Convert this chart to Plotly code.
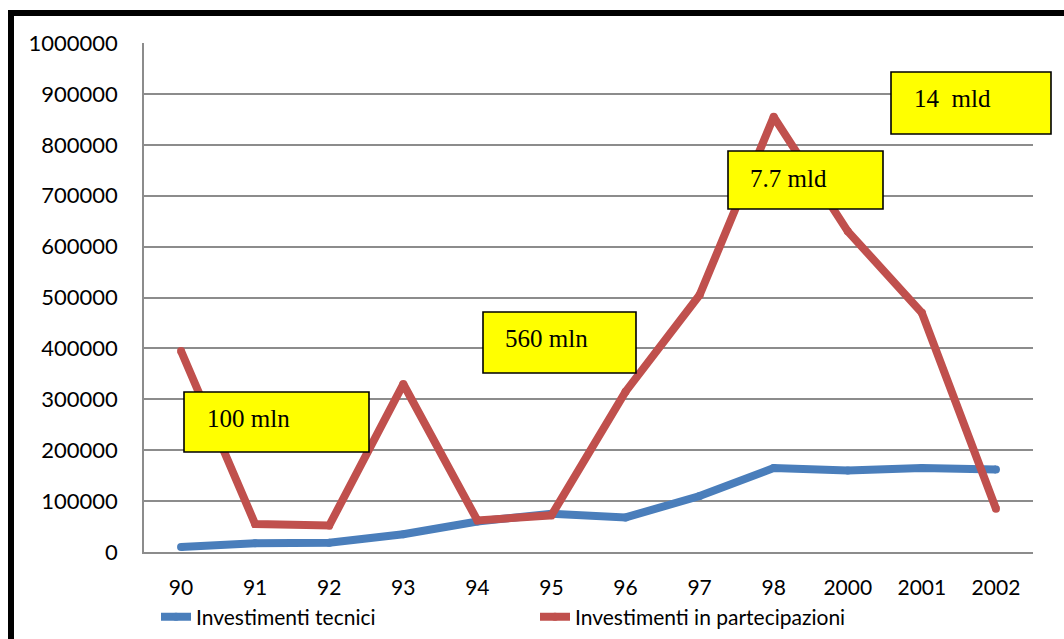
import plotly.graph_objects as go

W, H = 1064, 639
L, R, T, B = 144, 1033, 43, 552  # plot area in pixels

years = ["90", "91", "92", "93", "94", "95", "96", "97", "98", "2000", "2001", "2002"]
tecnici = [10000, 17000, 18000, 35000, 60000, 75000, 68000, 110000, 165000, 160000, 165000, 162000]
partecipazioni = [395000, 55000, 52000, 330000, 62000, 72000, 315000, 505000, 855000, 630000, 470000, 85000]
box_labels = ["100 mln", "560 mln", "7.7 mld", "14  mld"]

BLUE = "#4A7EBB"
RED = "#C0504D"


def px_x(px):
    return (px - L) / (R - L)


def px_y(py):
    return (B - py) / (B - T)


fig = go.Figure()
fig.add_trace(go.Scatter(x=years, y=tecnici, mode="lines+markers", name="Investimenti tecnici",
                         line=dict(color=BLUE, width=8), marker=dict(color=BLUE, size=8)))
fig.add_trace(go.Scatter(x=years, y=partecipazioni, mode="lines+markers", name="Investimenti in partecipazioni",
                         line=dict(color=RED, width=8), marker=dict(color=RED, size=8)))

shapes = []
# outer frame (left and top thick black lines)
shapes.append(dict(type="line", xref="paper", yref="paper", x0=px_x(11), x1=px_x(11), y0=px_y(10), y1=px_y(639),
                   line=dict(color="black", width=6)))
shapes.append(dict(type="line", xref="paper", yref="paper", x0=px_x(8), x1=px_x(1064), y0=px_y(13), y1=px_y(13),
                   line=dict(color="black", width=6)))

# yellow text boxes (pixel geometry)
boxes = [
    (184, 369, 392, 452, 205, 418),
    (483, 636, 312, 373, 503, 338),
    (728, 883, 151, 209, 748, 178),
    (891, 1051, 72, 134, 912, 98),
]
annotations = []
for (x0, x1, y0, y1, tx, ty), lab in zip(boxes, box_labels):
    shapes.append(dict(type="rect", xref="paper", yref="paper", x0=px_x(x0), x1=px_x(x1), y0=px_y(y1), y1=px_y(y0),
                       fillcolor="#FFFF00", line=dict(color="black", width=1.6), layer="above"))
    annotations.append(dict(xref="paper", yref="paper", x=px_x(tx), y=px_y(ty), xanchor="left", yanchor="middle",
                            text=lab.replace("  ", "&nbsp; "), showarrow=False,
                            font=dict(family="Liberation Serif", size=25, color="black")))

fig.update_layout(
    width=W, height=H,
    margin=dict(l=L, r=W - R, t=T, b=H - B, autoexpand=False),
    paper_bgcolor="white", plot_bgcolor="white",
    font=dict(family="Lato", size=22, color="black"),
    shapes=shapes, annotations=annotations,
    showlegend=True,
    legend=dict(orientation="h", x=px_x(156), y=px_y(617), xanchor="left", yanchor="middle",
                entrywidth=334, entrywidthmode="pixels", font=dict(family="Lato", size=21, color="black"),
                bgcolor="rgba(0,0,0,0)", itemwidth=30),
    xaxis=dict(type="category", range=[-0.5, 11.5], showgrid=False, showline=True, linecolor="#8C8C8C",
               linewidth=1.5, zeroline=False,
               ticks="", ticklabelstandoff=16, tickfont=dict(family="Lato", size=21, color="black")),
    yaxis=dict(range=[0, 1000000], dtick=100000, tickformat="d", showgrid=True, gridcolor="#8C8C8C",
               gridwidth=1.5, showline=True, linecolor="#8C8C8C", linewidth=1.5, zeroline=False,
               ticks="", ticklabelstandoff=20, tickfont=dict(family="Lato", size=22, color="black")),
)

fig.write_html("out.html")
